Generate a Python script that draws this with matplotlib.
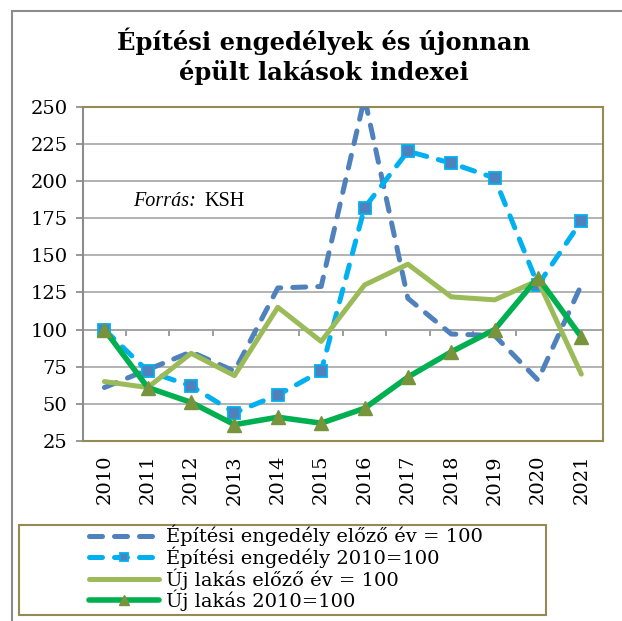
import matplotlib
matplotlib.use("Agg")
import matplotlib.pyplot as plt
import numpy as np
from matplotlib.patches import Rectangle

years = ["2010", "2011", "2012", "2013", "2014", "2015", "2016", "2017", "2018", "2019", "2020", "2021"]
permit_prev = [61, 73, 85, 72, 128, 129, 256, 121, 97, 96, 66, 130]
permit_2010 = [100, 72, 62, 44, 56, 72, 182, 220, 212, 202, 130, 173]
new_prev = [65, 61, 84, 69, 115, 92, 130, 144, 122, 120, 133, 70]
new_2010 = [100, 61, 51, 36, 41, 37, 47, 68, 85, 100, 135, 95]

labels = ["Építési engedély előző év = 100", "Építési engedély 2010=100",
          "Új lakás előző év = 100", "Új lakás 2010=100"]
title_lines = ["Építési engedélyek és újonnan", "épült lakások indexei"]
yticks = [25, 50, 75, 100, 125, 150, 175, 200, 225, 250]

C_DB = "#4F81BD"
C_LB = "#00B0F0"
C_LG = "#9BBB59"
C_G = "#00B050"
C_OL = "#77933C"
FRAME = "#948A54"
GRID = "#A6A6A6"

W, H = 622, 621
fig = plt.figure(figsize=(W / 100, H / 100), dpi=100)
ax = fig.add_axes([82.7 / W, 1 - 441 / H, (603 - 82.7) / W, (441 - 106.7) / H])

x = np.arange(len(years))
lw = 3.6
l1, = ax.plot(x, permit_prev, color=C_DB, lw=lw, dashes=(2.6, 2.4),
              dash_capstyle="round", solid_capstyle="round", zorder=3)
l2, = ax.plot(x, permit_2010, color=C_LB, lw=lw, dashes=(2.6, 2.4),
              dash_capstyle="round", marker="s", ms=9.2, mfc=C_DB, mec=C_LB, mew=1.3, zorder=4)
l3, = ax.plot(x, new_prev, color=C_LG, lw=lw, solid_capstyle="round", zorder=5)
l4, = ax.plot(x, new_2010, color=C_G, lw=4.0, solid_capstyle="round",
              marker="^", ms=10, mfc=C_OL, mec=C_OL, zorder=6)

ax.set_xlim(-0.5, len(years) - 0.5)
ax.set_ylim(25, 250)
ax.set_yticks(yticks)
ax.yaxis.grid(True, color=GRID, lw=1.2)
ax.set_axisbelow(True)
ax.set_xticks(x)
ax.set_xticklabels(years, rotation=90, fontfamily="DejaVu Serif", fontsize=14)
ax.tick_params(axis="x", length=0, pad=10)
ax.tick_params(axis="y", length=5, width=1.2, color="#868686", pad=6)
for t in ax.get_yticklabels():
    t.set_fontfamily("DejaVu Serif")
    t.set_fontsize(14)

for s in ["top", "right", "bottom"]:
    ax.spines[s].set_color(FRAME)
    ax.spines[s].set_linewidth(1.5)
ax.spines["left"].set_color("#8C8C8C")
ax.spines["left"].set_linewidth(1.5)

# category axis crossing at 100
sec = ax.secondary_xaxis((100 - 25) / (250 - 25))
sec.set_xticks(np.arange(len(years) + 1) - 0.5)
sec.set_xticklabels([])
sec.tick_params(axis="x", direction="out", length=4, width=1.2, color="#8C8C8C")
sec.spines["bottom"].set_color("#9A9A9A")
sec.spines["bottom"].set_linewidth(1.2)

src = fig.text(132.7 / W, 1 - 206.5 / H, "Forrás:", fontfamily="Liberation Serif",
               fontstyle="italic", fontsize=14.5, va="baseline", ha="left")
fig.canvas.draw()
bb = src.get_window_extent()
fig.text((bb.x1 + 9) / W, 1 - 206.5 / H, "KSH", fontfamily="Liberation Serif",
         fontsize=14.5, va="baseline", ha="left")

for i, line in enumerate(title_lines):
    fig.text(323.5 / W, 1 - (50 + 30 * i) / H, line, ha="center", va="baseline",
             fontfamily="DejaVu Serif", fontweight="bold", fontsize=17.5)

# outer border (only top and left visible)
fig.patches.append(Rectangle((12 / W, -0.1), 1.2, 1 - 11 / H + 0.1, transform=fig.transFigure,
                             fill=False, edgecolor="#8C8C8C", lw=1.5))

# legend frame
fig.patches.append(Rectangle((19 / W, 1 - 615 / H), (546 - 19) / W, (615 - 525) / H,
                             transform=fig.transFigure, fill=False, edgecolor=FRAME, lw=1.5))
leg = fig.legend([l1, l2, l3, l4], labels, loc="upper left",
                 bbox_to_anchor=(89 / W, 1 - 525 / H), frameon=False, borderpad=0,
                 borderaxespad=0, prop={"family": "DejaVu Serif", "size": 14},
                 handlelength=3.6, handletextpad=0.35, labelspacing=0.0, markerscale=0.65)

fig.savefig("out.png", dpi=100)
